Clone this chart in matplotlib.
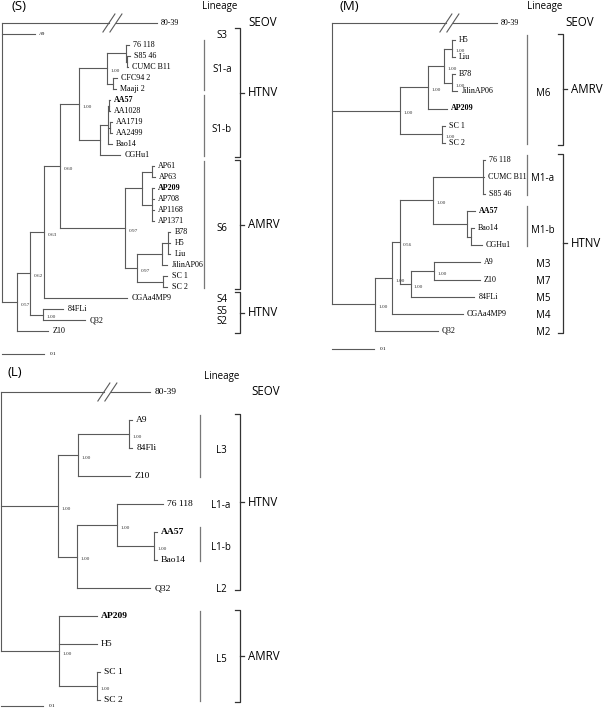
import matplotlib
matplotlib.use("Agg")
from matplotlib import pyplot as plt

# arboles en newick, longitud de rama en sustituciones por sitio
s_tree = (
    "(80-39:0.369,A9:0.079,"
    "((((("
    "((76 118:0.007,(S85 46:0.007,CUMC B11:0.002):0.002):0.045,"
    "(CFC94 2:0.010,Maaji 2:0.007):0.014)1.00:0.067,"
    "(((AA57:0.002,AA1028:0.002):0.002,(AA1719:0.005,AA2499:0.005):0.005,"
    "Bao14:0.010):0.019,CGHu1:0.048):0.050)1.00:0.045,"
    "(((AP61:0.005,AP63:0.007):0.024,"
    "(AP209:0.005,AP708:0.005,AP1168:0.005,AP1371:0.005):0.024):0.040,"
    "(((B78:0.005,H5:0.005,Liu:0.005):0.014,JilinAP06:0.012):0.060,"
    "(SC 1:0.010,SC 2:0.010):0.062)0.97:0.029)0.97:0.155)0.60:0.038,"
    "CGAa4MP9:0.198)0.63:0.033,"
    "(84FLi:0.048,Q32:0.100)1.00:0.031)0.62:0.031,"
    "Z10:0.074)0.57:0.036);"
)
m_tree = (
    "(80-39:0.393,"
    "((((H5:0.007,Liu:0.007)1.00:0.019,(B78:0.007,JilinAP06:0.012)1.00:0.019)1.00:0.038,"
    "AP209:0.045)1.00:0.067,(SC 1:0.007,SC 2:0.007)1.00:0.100)1.00:0.162,"
    "(((((76 118:0.005,CUMC B11:0.002,S85 46:0.005):0.119,"
    "(AA57:0.019,(Bao14:0.007,CGHu1:0.026):0.010):0.081)1.00:0.079,"
    "((A9:0.110,Z10:0.110)1.00:0.055,84FLi:0.152)1.00:0.026)0.56:0.019,"
    "CGAa4MP9:0.169)1.00:0.040,Q32:0.150)1.00:0.102);"
)
l_tree = (
    "(80-39:0.355,"
    "(((A9:0.007,84Fli:0.007)1.00:0.121,Z10:0.124)1.00:0.048,"
    "((76 118:0.110,(AA57:0.007,Bao14:0.007)1.00:0.088)1.00:0.095,Q32:0.174)1.00:0.045)1.00:0.136,"
    "(AP209:0.090,H5:0.090,(SC 1:0.007,SC 2:0.007)1.00:0.090)1.00:0.138);"
)

bold_tips = ["AA57", "AP209"]
outgroup = "80-39"
outgroup_lineage = "SEOV"
scale_len = 0.1

# sublinajes: (etiqueta, primera punta, ultima punta, con barra)
s_sub = [("S3", "A9", "A9", False), ("S1-a", "76 118", "Maaji 2", True),
         ("S1-b", "AA57", "CGHu1", True), ("S6", "AP61", "SC 2", True),
         ("S4", "CGAa4MP9", "CGAa4MP9", False), ("S5", "84FLi", "84FLi", False),
         ("S2", "Q32", "Q32", False)]
s_groups = [("HTNV", "A9", "CGHu1"), ("AMRV", "AP61", "SC 2"), ("HTNV", "CGAa4MP9", "Z10")]

m_sub = [("M6", "H5", "SC 2", True), ("M1-a", "76 118", "S85 46", True),
         ("M1-b", "AA57", "CGHu1", True), ("M3", "A9", "A9", False),
         ("M7", "Z10", "Z10", False), ("M5", "84FLi", "84FLi", False),
         ("M4", "CGAa4MP9", "CGAa4MP9", False), ("M2", "Q32", "Q32", False)]
m_groups = [("AMRV", "H5", "SC 2"), ("HTNV", "76 118", "Q32")]

l_sub = [("L3", "A9", "Z10", True), ("L1-a", "76 118", "76 118", False),
         ("L1-b", "AA57", "Bao14", True), ("L2", "Q32", "Q32", False),
         ("L5", "AP209", "SC 2", True)]
l_groups = [("HTNV", "A9", "Q32"), ("AMRV", "AP209", "SC 2")]

W, H = 605, 710
PPU = 420.0  # px por unidad (0.1 -> 42 px)
SERIF = ["Liberation Serif", "DejaVu Serif"]
SANS = ["Open Sans", "DejaVu Sans"]
LINE = "#5a5a5a"
LW = 0.8


def parse(s):
    pos = 0

    def node():
        nonlocal pos
        kids = []
        if s[pos] == "(":
            pos += 1
            kids.append(node())
            while s[pos] == ",":
                pos += 1
                kids.append(node())
            pos += 1
        start = pos
        while s[pos] not in ":,();":
            pos += 1
        name = s[start:pos]
        length = 0.0
        if s[pos] == ":":
            pos += 1
            start = pos
            while s[pos] not in ",();":
                pos += 1
            length = float(s[start:pos])
        return {"name": name, "len": length, "kids": kids}

    return node()


fig = plt.figure(figsize=(W / 100, H / 100), dpi=100)


def draw_panel(tree, sub, groups, letter, x0, y0, dy, tip_fs, bar_x, sub_x, br_x,
               head_x, seov_x, scale_y, letter_x, letter_y, small=()):
    ax = fig.add_axes([0, 0, 1, 1])
    ax.set_xlim(-x0 / PPU, (W - x0) / PPU)
    ax.set_ylim((H - y0) / dy, -y0 / dy)
    ax.axis("off")
    ux = lambda p: (p - x0) / PPU   # px absoluto -> unidades
    uy = lambda p: (p - y0) / dy    # px absoluto -> filas

    root = parse(tree)
    tips = {}
    order = []

    def walk(n, x):
        n["x"] = x + n["len"]
        if n["kids"]:
            for k in n["kids"]:
                walk(k, n["x"])
            n["y"] = (n["kids"][0]["y"] + n["kids"][-1]["y"]) / 2
        else:
            n["y"] = len(order)
            order.append(n)
            tips[n["name"]] = n["y"]

    walk(root, 0.0)

    def draw(n, px_):
        if px_ is not None:
            if n["name"] == outgroup:
                c1 = px_ + 0.69 * n["len"]
                c2 = c1 + 7 / PPU
                ax.plot([px_, c1], [n["y"], n["y"]], color=LINE, lw=LW)
                ax.plot([c2, n["x"]], [n["y"], n["y"]], color=LINE, lw=LW)
                for c in (c1, c2):
                    ax.plot([c - 6 / PPU, c + 6 / PPU], [n["y"] + 9 / dy, n["y"] - 9 / dy],
                            color=LINE, lw=LW)
            else:
                ax.plot([px_, n["x"]], [n["y"], n["y"]], color=LINE, lw=LW)
        if n["kids"]:
            ax.plot([n["x"], n["x"]], [n["kids"][0]["y"], n["kids"][-1]["y"]],
                    color=LINE, lw=LW)
            if n["name"]:
                ax.annotate(n["name"], (n["x"], n["y"]), xytext=(2.5, -2),
                            textcoords="offset points", fontsize=3.8, family=SERIF,
                            ha="left", va="center", color="#333333")
            for k in n["kids"]:
                draw(k, n["x"])
        else:
            fs = 3.8 if n["name"] in small else tip_fs
            fw = "bold" if n["name"] in bold_tips else "normal"
            ax.annotate(n["name"], (n["x"], n["y"]), xytext=(3, 0),
                        textcoords="offset points", fontsize=fs, family=SERIF,
                        fontweight=fw, ha="left", va="center")

    draw(root, None)

    # linajes
    for lab, a, b, bar in sub:
        ya, yb = tips[a], tips[b]
        if bar:
            ax.plot([ux(bar_x), ux(bar_x)], [ya - 5 / dy, yb + 1 / dy], color="#777777", lw=0.9)
        ax.text(ux(sub_x), (ya + yb) / 2 + 2 / dy, lab, fontsize=7, family=SANS,
                ha="center", va="center")
    for lab, a, b in groups:
        top, bot = tips[a] - 6 / dy, tips[b] + 2 / dy
        mid = (top + bot) / 2
        bx = ux(br_x)
        ax.plot([bx - 5 / PPU, bx, bx, bx - 5 / PPU], [top, top, bot, bot],
                color="#333333", lw=0.9)
        ax.plot([bx, bx + 4 / PPU], [mid, mid], color="#333333", lw=0.9)
        ax.text(bx + 8 / PPU, mid, lab, fontsize=8.3, family=SANS, ha="left", va="center")

    ax.text(ux(head_x), uy(y0 - 16), "Lineage", fontsize=7, family=SANS,
            ha="center", va="center")
    ax.text(ux(seov_x), tips[outgroup] - 1 / dy, outgroup_lineage, fontsize=8.3,
            family=SANS, ha="center", va="center")
    ax.text(ux(letter_x), uy(letter_y), letter, fontsize=9.5, family=SANS,
            ha="left", va="center")

    # barra de escala
    ax.plot([0, scale_len], [uy(scale_y), uy(scale_y)], color=LINE, lw=LW)
    ax.text(scale_len + 6 / PPU, uy(scale_y), "0.1", fontsize=3.8, family=SERIF,
            ha="left", va="center")


draw_panel(s_tree, s_sub, s_groups, "(S)", x0=2, y0=23, dy=11.0, tip_fs=5.8,
           bar_x=204, sub_x=222, br_x=240, head_x=220, seov_x=263, scale_y=354,
           letter_x=11, letter_y=7, small=("A9",))
draw_panel(m_tree, m_sub, m_groups, "(M)", x0=332, y0=23, dy=17.1, tip_fs=5.8,
           bar_x=527, sub_x=543, br_x=563, head_x=545, seov_x=580, scale_y=349,
           letter_x=339, letter_y=7)
draw_panel(l_tree, l_sub, l_groups, "(L)", x0=1, y0=392, dy=28.0, tip_fs=6.8,
           bar_x=200, sub_x=221, br_x=240, head_x=222, seov_x=266, scale_y=706,
           letter_x=7, letter_y=372)

fig.savefig("out.png", dpi=100)
